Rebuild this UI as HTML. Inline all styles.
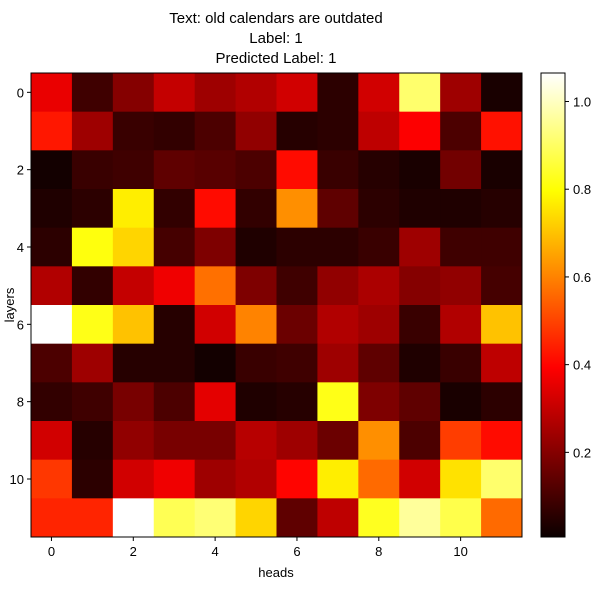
<!DOCTYPE html>
<html><head><meta charset="utf-8"><style>
body{margin:0;background:#fff;}
svg text{font-family:"Liberation Sans","DejaVu Sans",sans-serif;fill:#000;}
</style></head><body>
<svg id="chart" width="614" height="589" xmlns="http://www.w3.org/2000/svg">
<text x="276" y="23" font-size="15" text-anchor="middle">Text: old calendars are outdated</text>
<text x="276" y="43" font-size="15" text-anchor="middle">Label: 1</text>
<text x="276" y="63" font-size="15" text-anchor="middle">Predicted Label: 1</text>
<g id="cells"></g>
<rect x="31" y="73" width="491" height="464" fill="none" stroke="#000" stroke-width="1"/>
<g id="xticks"></g>
<g id="yticks"></g>
<text x="276" y="577" font-size="13" text-anchor="middle">heads</text>
<text x="0" y="0" font-size="13" text-anchor="middle" transform="translate(14,305) rotate(-90)">layers</text>
<defs><linearGradient id="hot" x1="0" y1="1" x2="0" y2="0">
<stop offset="0" stop-color="#0b0000"/><stop offset="0.365" stop-color="#ff0000"/><stop offset="0.746" stop-color="#ffff00"/><stop offset="1" stop-color="#ffffff"/>
</linearGradient></defs>
<rect x="541" y="73" width="24" height="464" fill="url(#hot)" stroke="#000" stroke-width="1"/>
<g id="cbticks"></g>
</svg>
<script>
const heads = [0,1,2,3,4,5,6,7,8,9,10,11];
const layers = [0,1,2,3,4,5,6,7,8,9,10,11];
const xTickLabels = [0,2,4,6,8,10];
const yTickLabels = [0,2,4,6,8,10];
const cbTickLabels = [0.2,0.4,0.6,0.8,1.0];
const row0 = [0.36,0.09,0.20,0.30,0.24,0.27,0.32,0.06,0.32,0.91,0.24,0.03];
const row1 = [0.43,0.24,0.08,0.07,0.11,0.22,0.05,0.06,0.29,0.39,0.11,0.42];
const row2 = [0.02,0.08,0.09,0.14,0.13,0.11,0.41,0.08,0.05,0.03,0.17,0.03];
const row3 = [0.04,0.06,0.77,0.07,0.41,0.07,0.62,0.14,0.06,0.04,0.04,0.05];
const row4 = [0.06,0.81,0.73,0.10,0.19,0.04,0.06,0.06,0.08,0.24,0.09,0.09];
const row5 = [0.27,0.07,0.30,0.37,0.57,0.19,0.09,0.22,0.26,0.20,0.22,0.10];
const row6 = [1.065,0.82,0.70,0.05,0.32,0.60,0.16,0.27,0.24,0.08,0.27,0.70];
const row7 = [0.11,0.24,0.05,0.05,0.02,0.08,0.09,0.24,0.14,0.04,0.08,0.29];
const row8 = [0.07,0.09,0.18,0.11,0.35,0.04,0.05,0.82,0.19,0.14,0.03,0.06];
const row9 = [0.32,0.05,0.22,0.18,0.18,0.28,0.24,0.16,0.62,0.11,0.49,0.41];
const row10 = [0.48,0.06,0.32,0.37,0.24,0.27,0.40,0.77,0.56,0.32,0.75,0.91];
const row11 = [0.45,0.45,1.065,0.885,0.92,0.73,0.14,0.29,0.83,0.96,0.875,0.56];
const values = [row0,row1,row2,row3,row4,row5,row6,row7,row8,row9,row10,row11];
const vmin = 0.007, vmax = 1.065;

const X0=31, W=491, Y0=73, H=464, CBY=73, CBH=464;
const cw = W/heads.length, ch = H/layers.length;
const xs = i => X0 + i*cw;
const ys = j => Y0 + j*ch;
const cbY = v => CBY + CBH - (v - vmin)/(vmax - vmin)*CBH;
function hot(v){
  let t=(v-vmin)/(vmax-vmin); t=Math.max(0,Math.min(1,t));
  const r=Math.min(1,0.0416+t/0.365*(1-0.0416));
  const g=Math.max(0,Math.min(1,(t-0.365)/(0.746-0.365)));
  const b=Math.max(0,Math.min(1,(t-0.746)/(1-0.746)));
  return `rgb(${Math.round(r*255)},${Math.round(g*255)},${Math.round(b*255)})`;
}
const NS="http://www.w3.org/2000/svg";
const cells=document.getElementById('cells');
layers.forEach((l,j)=>heads.forEach((h,i)=>{
  const r=document.createElementNS(NS,'rect');
  
  
  r.setAttribute('x',xs(i)); r.setAttribute('y',ys(j));
  r.setAttribute('width',cw+0.5); r.setAttribute('height',ch+0.5);
  r.setAttribute('fill',hot(values[j][i]));
  cells.appendChild(r);
}));
const xt=document.getElementById('xticks');
xTickLabels.forEach(v=>{
  const x=xs(v)+cw/2;
  const l=document.createElementNS(NS,'line');
  
  
  l.setAttribute('x1',x);l.setAttribute('x2',x);l.setAttribute('y1',537);l.setAttribute('y2',541);l.setAttribute('stroke','#000');
  xt.appendChild(l);
  const t=document.createElementNS(NS,'text');
  
  
  t.setAttribute('x',x);t.setAttribute('y',556);t.setAttribute('font-size','13');t.setAttribute('text-anchor','middle');
  t.textContent=v; xt.appendChild(t);
});
const yt=document.getElementById('yticks');
yTickLabels.forEach(v=>{
  const y=ys(v)+ch/2;
  const l=document.createElementNS(NS,'line');
  
  
  l.setAttribute('x1',27);l.setAttribute('x2',31);l.setAttribute('y1',y);l.setAttribute('y2',y);l.setAttribute('stroke','#000');
  yt.appendChild(l);
  const t=document.createElementNS(NS,'text');
  
  
  t.setAttribute('x',24);t.setAttribute('y',y+5);t.setAttribute('font-size','13');t.setAttribute('text-anchor','end');
  t.textContent=v; yt.appendChild(t);
});
const cb=document.getElementById('cbticks');
cbTickLabels.forEach(v=>{
  const y=cbY(v);
  const l=document.createElementNS(NS,'line');
  
  
  l.setAttribute('x1',565);l.setAttribute('x2',569);l.setAttribute('y1',y);l.setAttribute('y2',y);l.setAttribute('stroke','#000');
  cb.appendChild(l);
  const t=document.createElementNS(NS,'text');
  
  
  t.setAttribute('x',573);t.setAttribute('y',y+5);t.setAttribute('font-size','13');
  t.textContent=v.toFixed(1); cb.appendChild(t);
});
</script>
</body></html>
